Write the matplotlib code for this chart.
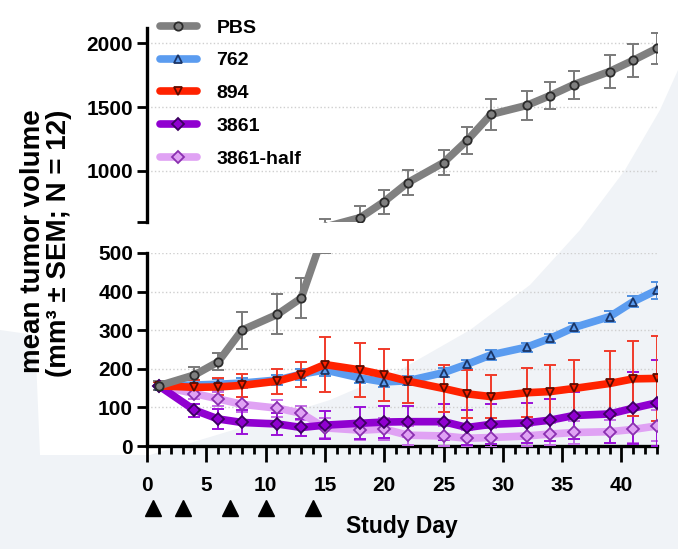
import numpy as np
import matplotlib
matplotlib.use('Agg')
import matplotlib.pyplot as plt
from matplotlib.ticker import MultipleLocator, FixedLocator
from matplotlib.patches import Polygon
from matplotlib.transforms import blended_transform_factory

plt.rcParams['font.family'] = ['Liberation Sans', 'DejaVu Sans']
plt.rcParams['font.weight'] = 'bold'

# study days with measurements
days = [1, 4, 6, 8, 11, 13, 15, 18, 20, 22, 25, 27, 29, 32, 34, 36, 39, 41, 43]

# mean tumor volume (mm3) and SEM per group
pbs_mean = [156, 184, 218, 300, 341, 383, 560, 635, 760, 909, 1065, 1240, 1443, 1513, 1591, 1677, 1779, 1867, 1961]
pbs_sem = [12, 20, 22, 48, 52, 51, 60, 90, 94, 100, 100, 107, 121, 117, 108, 110, 129, 128, 121]

g762_mean = [156, 158, 160, 163, 171, 186, 197, 176, 166, 169, 190, 212, 236, 256, 279, 307, 335, 374, 404]
g762_sem = [10, 12, 14, 14, 14, 14, 16, 14, 14, 12, 12, 12, 12, 12, 12, 12, 14, 15, 22]

g894_mean = [156, 152, 153, 157, 168, 185, 211, 197, 184, 168, 149, 135, 128, 138, 141, 149, 162, 174, 175]
g894_sem = [10, 18, 22, 30, 32, 32, 72, 70, 67, 56, 60, 63, 55, 63, 69, 73, 85, 97, 110]

g3861_mean = [156, 93, 70, 61, 57, 48, 54, 59, 62, 63, 63, 48, 56, 60, 67, 79, 83, 98, 112]
g3861_sem = [10, 17, 25, 31, 28, 22, 37, 42, 42, 40, 47, 45, 52, 52, 55, 60, 75, 94, 111]

g3861h_mean = [156, 136, 122, 108, 98, 85, 47, 41, 44, 28, 26, 20, 22, 26, 31, 35, 37, 43, 52]
g3861h_sem = [10, 15, 18, 20, 22, 18, 25, 25, 28, 25, 25, 22, 25, 25, 28, 30, 30, 35, 40]

# dosing days (arrowheads under the x axis)
dose_days = [0.5, 3, 7, 10, 14]

groups = [
    # label, mean, sem, line colour, marker, edge colour, error colour
    ('3861-half', g3861h_mean, g3861h_sem, '#e0a2f4', 'D', '#8a30b0', '#c46ee6'),
    ('3861', g3861_mean, g3861_sem, '#9000d0', 'D', '#3c0060', '#9a10d8'),
    ('762', g762_mean, g762_sem, '#5b9cf0', '^', '#1b3566', '#4f8fe0'),
    ('894', g894_mean, g894_sem, '#ff2200', 'v', '#5c0b00', '#f03a2a'),
    ('PBS', pbs_mean, pbs_sem, '#808080', 'o', '#2b2b2b', '#7a7a7a'),
]
legend_order = ['PBS', '762', '894', '3861', '3861-half']

W, H = 678, 549
fig = plt.figure(figsize=(W / 100, H / 100), dpi=100)
fig.patch.set_facecolor('white')

# light slide background swoosh, in pixel coordinates from the top-left
bg_px = [(0, 330), (35, 335), (40, 455), (150, 455), (250, 425), (330, 400),
         (400, 370), (470, 330), (530, 285), (580, 230), (625, 170), (660, 110),
         (678, 70), (678, 549), (0, 549)]
bg = Polygon([(x / W, 1 - y / H) for x, y in bg_px], closed=True,
             transform=fig.transFigure, facecolor='#f0f3f7', edgecolor='none', zorder=-5)
fig.patches.append(bg)

left, right = 147 / W, 657 / W
ax_bot = fig.add_axes([left, 1 - 446 / H, right - left, (446 - 253) / H])
ax_top = fig.add_axes([left, 1 - 222 / H, right - left, (222 - 28) / H], sharex=ax_bot)

for ax in (ax_bot, ax_top):
    ax.patch.set_alpha(0)
    ax.set_zorder(2)
    for lbl, mean, sem, col, mk, ec, errc in groups:
        ax.errorbar(days, mean, yerr=sem, fmt='none', ecolor=errc, elinewidth=1.4,
                    capsize=4.5, capthick=1.4, zorder=3)
        ax.plot(days, mean, color=col, lw=5.5, marker=mk, markersize=6,
                markerfacecolor=col, markeredgecolor=ec, markeredgewidth=1.3,
                label=lbl, zorder=4, solid_capstyle='round')
    ax.spines['top'].set_visible(False)
    ax.spines['right'].set_visible(False)
    ax.spines['left'].set_linewidth(2.4)
    ax.tick_params(axis='y', direction='out', length=7, width=2, labelsize=15, pad=3)

ax_bot.set_xlim(0, 43)
ax_bot.set_ylim(0, 500)
ax_bot.set_yticks([0, 100, 200, 300, 400, 500])
ax_bot.spines['bottom'].set_linewidth(2.4)
ax_bot.xaxis.set_major_locator(MultipleLocator(5))
ax_bot.xaxis.set_minor_locator(MultipleLocator(1))
ax_bot.tick_params(axis='x', which='major', direction='out', length=11.5, width=2,
                   labelsize=15, pad=10)
ax_bot.tick_params(axis='x', which='minor', direction='out', length=6, width=2)
for v in [100, 200, 300, 400, 500]:
    ax_bot.axhline(v, color='#cfcfcf', lw=1, ls=':', zorder=1)

ax_top.set_ylim(600, 2120)
ax_top.yaxis.set_major_locator(FixedLocator([600, 1000, 1500, 2000]))
ax_top.set_yticklabels(['', '1000', '1500', '2000'])
ax_top.spines['bottom'].set_visible(False)
ax_top.tick_params(axis='x', which='both', bottom=False, labelbottom=False)
for v in [1000, 1500, 2000]:
    ax_top.axhline(v, color='#cfcfcf', lw=1, ls=':', zorder=1)

for t in ax_bot.get_xticklabels() + ax_bot.get_yticklabels() + ax_top.get_yticklabels():
    t.set_fontweight('bold')

# dosing markers below the axis
trans = blended_transform_factory(ax_bot.transData, ax_bot.transAxes)
ax_bot.plot(dose_days, [-0.32] * len(dose_days), linestyle='none', marker='^',
            markersize=11, color='black', transform=trans, clip_on=False)

fig.text(402 / W, 1 - 527 / H, 'Study Day', ha='center', va='center',
         fontsize=16.5, fontweight='bold')
fig.text(33 / W, 1 - 241 / H, 'mean tumor volume', rotation=90, ha='center',
         va='center', fontsize=20, fontweight='bold')
fig.text(59 / W, 1 - 243 / H, '(mm\u00b3 \u00b1 SEM; N = 12)', rotation=90, ha='center',
         va='center', fontsize=20, fontweight='bold')

handles, labels = ax_top.get_legend_handles_labels()
hmap = dict(zip(labels, handles))
leg = fig.legend([hmap[k] for k in legend_order], legend_order, loc='upper left',
                 bbox_to_anchor=(160 / W, 1 - 19 / H), frameon=False, borderpad=0,
                 borderaxespad=0, handlelength=1.9, handletextpad=1.0, labelspacing=0.78,
                 prop={'size': 14, 'weight': 'bold'})
leg.set_zorder(5)

fig.savefig('out.png', dpi=100)
